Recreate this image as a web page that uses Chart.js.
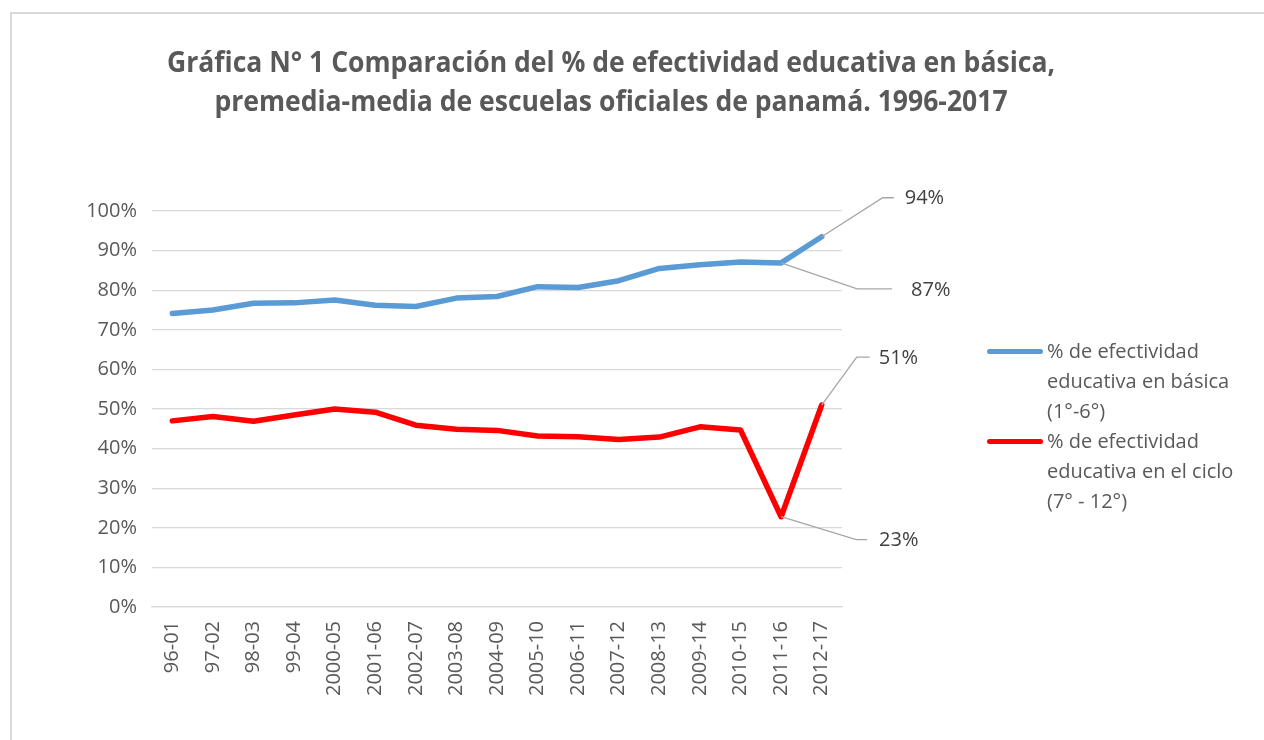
<!DOCTYPE html>
<html>
<head>
<meta charset="utf-8">
<script src="https://cdn.jsdelivr.net/npm/chart.js@4/dist/chart.umd.min.js"></script>
<style>
  html, body { margin: 0; padding: 0; background: #fff; width: 1264px; height: 740px; overflow: hidden; }
  #wrap { position: relative; width: 1264px; height: 740px; }
  canvas { position: absolute; left: 0; top: 0; }
  #frame { position: absolute; left: 10px; top: 12px; width: 1300px; height: 800px; border: 2px solid #d9d9d9; pointer-events: none; }
  #title { position: absolute; left: 0; top: 42px; width: 1222px; text-align: center; font-family: "Open Sans", sans-serif; font-weight: bold; font-size: 28px; line-height: 39px; color: #595959; transform: scaleX(0.948); transform-origin: 611px 0; }
  .leg { position: absolute; left: 1047px; font-family: "Open Sans", sans-serif; font-size: 20px; line-height: 30px; color: #595959; }
  .legline { position: absolute; left: 987px; width: 56px; height: 5px; border-radius: 3px; }
</style>
</head>
<body>
<div id="wrap">
  <canvas id="c" width="1264" height="740"></canvas>
  <div id="frame"></div>
  <div id="title">Gráfica N° 1 Comparación del % de efectividad educativa en básica,<br>premedia-media de escuelas oficiales de panamá. 1996-2017</div>
  <div class="legline" id="ll0" style="top:349px"></div>
  <div class="leg" id="lt0" style="top:336px">% de efectividad<br>educativa en básica<br>(1°-6°)</div>
  <div class="legline" id="ll1" style="top:439px"></div>
  <div class="leg" id="lt1" style="top:426px">% de efectividad<br>educativa en el ciclo<br>(7° - 12°)</div>
</div>
<script>
const categories = ["96-01","97-02","98-03","99-04","2000-05","2001-06","2002-07","2003-08","2004-09","2005-10","2006-11","2007-12","2008-13","2009-14","2010-15","2011-16","2012-17"];
const basica = [74.1,75.0,76.7,76.8,77.5,76.2,75.9,78.0,78.4,80.9,80.7,82.4,85.5,86.4,87.1,86.9,93.5];
const ciclo = [47.0,48.1,46.9,48.5,50.0,49.2,45.9,44.9,44.6,43.2,43.0,42.3,42.9,45.5,44.7,22.8,51.0];
const seriesNames = ["% de efectividad educativa en básica (1°-6°)", "% de efectividad educativa en el ciclo (7° - 12°)"];
const seriesColors = ["#5B9BD5", "#FF0000"];
const yTicks = [0,10,20,30,40,50,60,70,80,90,100];
// data labels: dataset index, point index, text
const labelPoints = [
  {ds:0, i:15, text:"87%"},
  {ds:0, i:16, text:"94%"},
  {ds:1, i:15, text:"23%"},
  {ds:1, i:16, text:"51%"}
];
const labelOffsets = [
  {dx:76, dy:26, h:35, gap:19},
  {dx:61, dy:-39, h:11, gap:11},
  {dx:75, dy:23, h:11, gap:12},
  {dx:35, dy:-48, h:13, gap:9}
];

document.getElementById('ll0').style.background = seriesColors[0];
document.getElementById('ll1').style.background = seriesColors[1];

const FONT = "'Open Sans', sans-serif";

const labelPlugin = {
  id: 'leaderLabels',
  afterDatasetsDraw(chart) {
    const ctx = chart.ctx;
    ctx.save();
    labelPoints.forEach((lp, k) => {
      const el = chart.getDatasetMeta(lp.ds).data[lp.i];
      const o = labelOffsets[k];
      const x0 = el.x, y0 = el.y;
      const x1 = x0 + o.dx, y1 = y0 + o.dy;
      const x2 = x1 + o.h;
      ctx.strokeStyle = '#a6a6a6';
      ctx.lineWidth = 1.3;
      ctx.beginPath();
      ctx.moveTo(x0, y0);
      ctx.lineTo(x1, y1);
      ctx.lineTo(x2, y1);
      ctx.stroke();
      ctx.fillStyle = '#404040';
      ctx.font = "20px " + FONT;
      ctx.textAlign = 'left';
      ctx.textBaseline = 'middle';
      ctx.fillText(lp.text, x2 + o.gap, y1 + 1);
    });
    ctx.restore();
  }
};

new Chart(document.getElementById('c'), {
  type: 'line',
  data: {
    labels: categories,
    datasets: [
      { label: seriesNames[0], data: basica, borderColor: seriesColors[0], backgroundColor: seriesColors[0], borderWidth: 5.5, pointRadius: 0, tension: 0, borderCapStyle: 'round', borderJoinStyle: 'round' },
      { label: seriesNames[1], data: ciclo, borderColor: seriesColors[1], backgroundColor: seriesColors[1], borderWidth: 5.5, pointRadius: 0, tension: 0, borderCapStyle: 'round', borderJoinStyle: 'round' }
    ]
  },
  options: {
    responsive: false,
    animation: false,
    layout: { padding: { left: 0, top: 211, right: 422, bottom: 0 } },
    plugins: { legend: { display: false }, tooltip: { enabled: false }, title: { display: false } },
    scales: {
      x: {
        offset: true,
        grid: { display: false, drawTicks: false },
        border: { display: true, color: '#d9d9d9', width: 1.3 },
        ticks: { minRotation: 90, maxRotation: 90, autoSkip: false, padding: 14, color: '#595959', font: { family: FONT, size: 20 } },
        afterFit(s) { s.height = 133; }
      },
      y: {
        min: 0, max: 100,
        afterBuildTicks(s) { s.ticks = yTicks.map(v => ({ value: v })); },
        grid: { color: '#d9d9d9', lineWidth: 1.3, drawTicks: false },
        border: { display: false },
        ticks: { padding: 15, color: '#595959', font: { family: FONT, size: 20 }, callback: v => v + '%' },
        afterFit(s) { s.width = 152; }
      }
    }
  },
  plugins: [labelPlugin]
});
</script>
</body>
</html>
